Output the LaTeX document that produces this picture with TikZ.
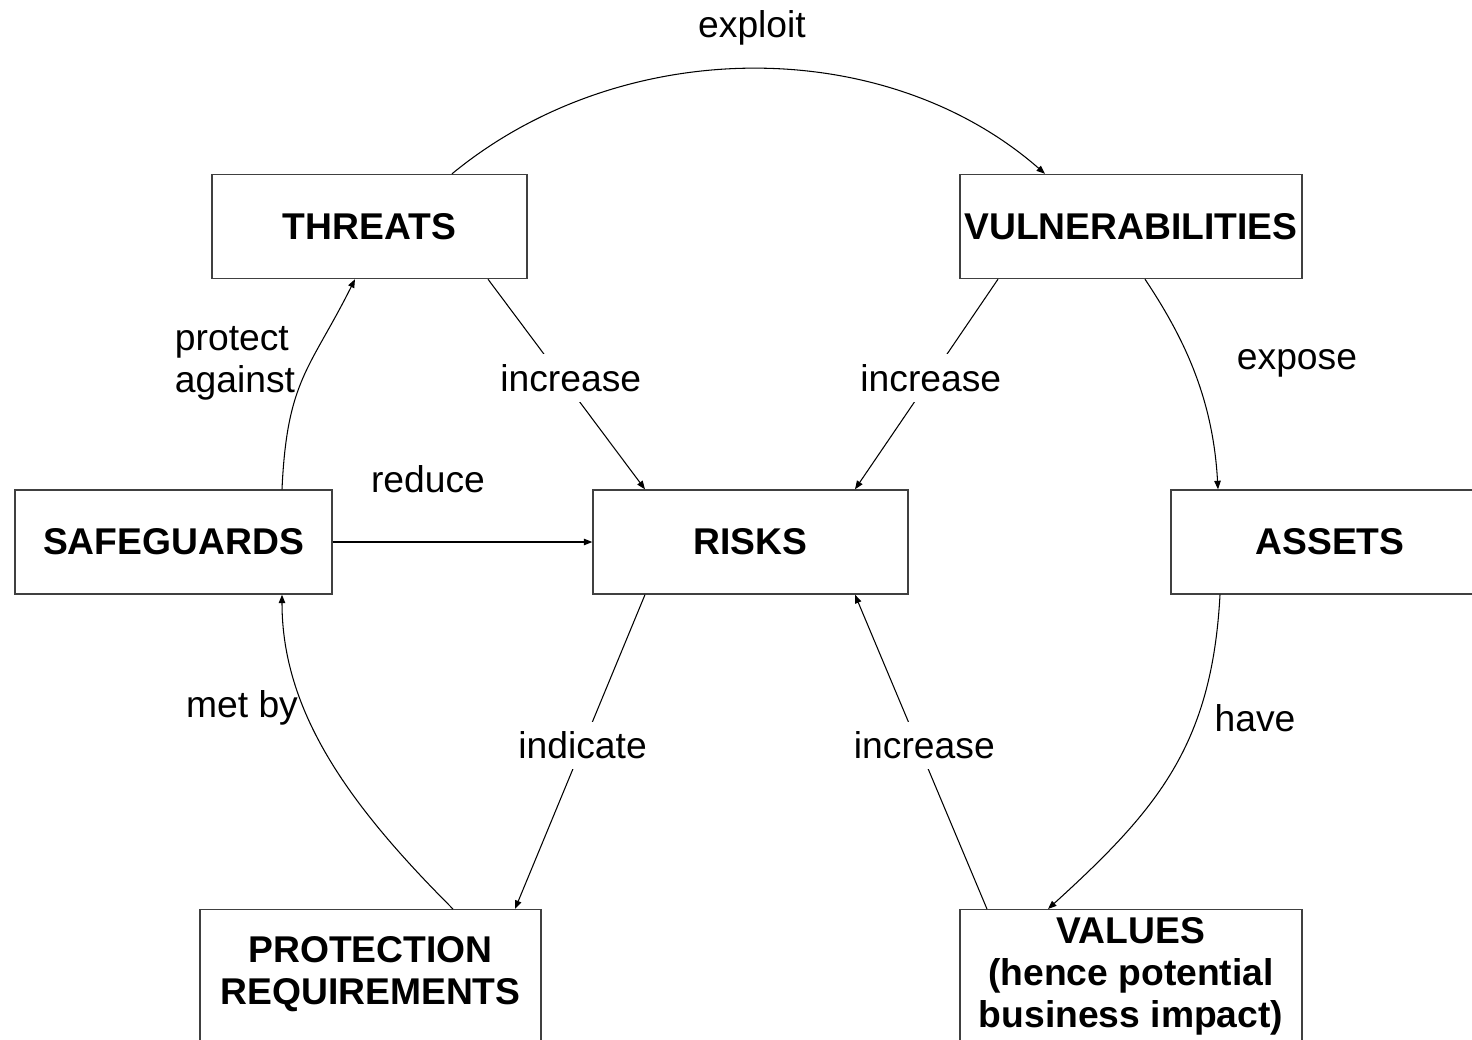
\documentclass[tikz,border=0pt]{standalone}
\usepackage{fontspec}
\setmainfont{Liberation Sans}
\usetikzlibrary{arrows.meta, calc}

\begin{document}
\begin{tikzpicture}[
    x=0.02cm, y=-0.02cm, % one unit = one pixel, y runs downwards
    font=\fontsize{21.2}{24}\selectfont,
    box/.style={draw=black!75, line width=0.8pt, align=center, inner sep=0pt, minimum height=2.08cm, font=\fontsize{21.2}{24}\selectfont\bfseries},
    cut/.style={box, anchor=north, minimum height=0pt, text depth=1.2cm}, % boxes running off the bottom edge
    lbl/.style={fill=white, inner xsep=2pt, inner ysep=0.2cm},
    arr/.style={-{Triangle[length=0.17cm, width=0.13cm]}, line width=0.6pt}
]
\path[use as bounding box, clip] (0,0) rectangle (1472,1039);

% Boxes
\node[box, minimum width=6.3cm] (threats) at (369.5,226.5) {THREATS};
\node[box, minimum width=6.84cm] (vuln) at (1131,226.5) {VULNERABILITIES};
\node[box, minimum width=6.34cm] (safeguards) at (173.5,542) {SAFEGUARDS};
\node[box, minimum width=6.3cm] (risks) at (750.5,542) {RISKS};
\node[box, minimum width=6.36cm] (assets) at (1330,542) {ASSETS};
\node[cut, minimum width=6.82cm, inner ysep=0.54cm] (protreq) at (370.5,909) {PROTECTION\\REQUIREMENTS};
\node[cut, minimum width=6.84cm, inner ysep=0.15cm] (values) at (1131,909) {VALUES\\(hence potential\\business impact)};

% Curved connectors
\draw[arr] ($(threats.north)+(82.5,0)$) .. controls +(170,-140) and +(-160,-140) .. ($(vuln.north)+(-86,0)$);
\draw[arr] ($(vuln.south)+(14,0)$) .. controls +(40,60) and +(-5,-90) .. ($(assets.north)+(-112,0)$);
\draw[arr] ($(assets.south)+(-110,0)$) .. controls +(-8,150) and +(110,-100) .. ($(values.north)+(-83,0)$);
\draw[arr] ($(safeguards.north)+(108.5,0)$) .. controls +(5,-110) and +(-45,90) .. ($(threats.south)+(-14.5,0)$);
\draw[arr] ($(protreq.north)+(82.5,0)$) .. controls +(-100,-100) and +(0,120) .. ($(safeguards.south)+(108.5,0)$);

% Straight connectors
\draw[arr] (safeguards.east) -- (risks.west);
\draw[arr] ($(threats.south)+(118.5,0)$) -- node[lbl, pos=0.47, xshift=0.18cm] {increase} ($(risks.north)+(-105.5,0)$);
\draw[arr] ($(vuln.south)+(-133,0)$) -- node[lbl, pos=0.47] {increase} ($(risks.north)+(104.5,0)$);
\draw[arr] ($(risks.south)+(-105.5,0)$) -- node[lbl, pos=0.48] {indicate} ($(protreq.north)+(144.5,0)$);
\draw[arr] ($(values.north)+(-144,0)$) -- node[lbl, pos=0.52, xshift=0.12cm] {increase} ($(risks.south)+(104.5,0)$);

% Labels
\node (lexploit) at (752,28) {exploit};
\node[align=left] (lprotect) at (235,363) {protect\\against};
\node (lreduce) at (428,479) {reduce};
\node (lexpose) at (1297,363) {expose};
\node (lmetby) at (242,708) {met by};
\node (lhave) at (1255,718) {have};

\end{tikzpicture}
\end{document}
